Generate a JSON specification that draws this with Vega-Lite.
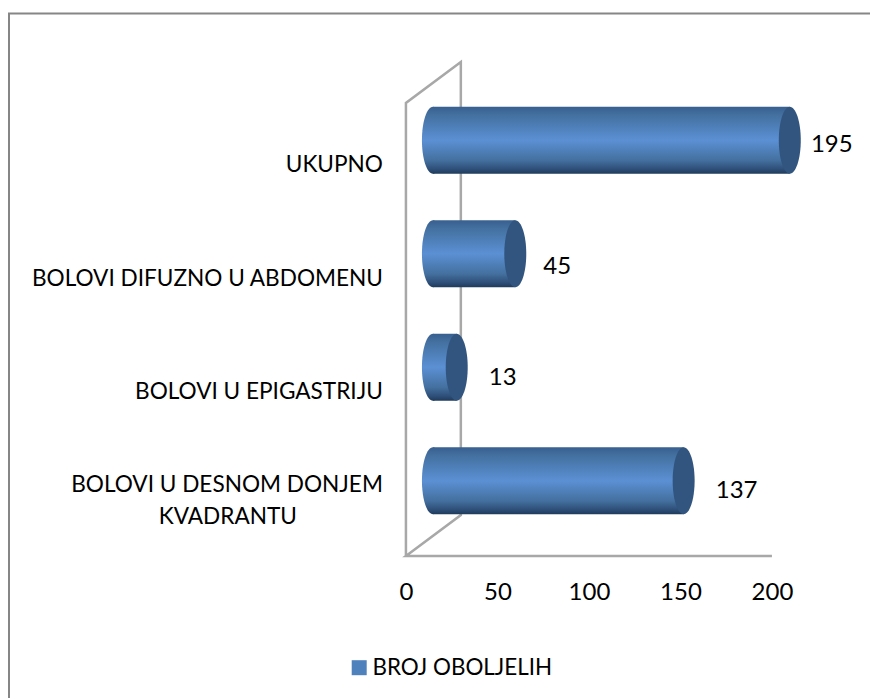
{
"$schema":"https://vega.github.io/schema/vega-lite/v6.json",
"autosize":{"type":"none"},
"padding":{"left":9,"top":13.5,"right":0,"bottom":0},
"width":900,"height":720,
"background":"white",
"config":{"view":{"stroke":"#868686","strokeWidth":2},"font":"Lato"},
"datasets":{
"bars":[
{"kategorija":"UKUPNO","broj":195,"serija":"BROJ OBOLJELIH"},
{"kategorija":"BOLOVI DIFUZNO U ABDOMENU","broj":45,"serija":"BROJ OBOLJELIH"},
{"kategorija":"BOLOVI U EPIGASTRIJU","broj":13,"serija":"BROJ OBOLJELIH"},
{"kategorija":"BOLOVI U DESNOM DONJEM KVADRANTU","broj":137,"serija":"BROJ OBOLJELIH"}],
"linije":[
{"kategorija":"UKUPNO","tekst":"UKUPNO","x":-12.6},
{"kategorija":"BOLOVI DIFUZNO U ABDOMENU","tekst":"BOLOVI DIFUZNO U ABDOMENU","x":-12.6},
{"kategorija":"BOLOVI U EPIGASTRIJU","tekst":"BOLOVI U EPIGASTRIJU","x":-12.6}],
"zid":[
{"r":1,"x":0,"h":0},{"r":2,"x":0,"h":453},{"r":3,"x":30,"h":494},{"r":4,"x":30,"h":41},{"r":5,"x":0,"h":0},{"r":6,"x":200,"h":0}]
},
"layer":[
{"data":{"name":"zid"},
 "mark":{"type":"line","color":"#a8a8a8","strokeWidth":2.5,"clip":false},
 "encoding":{
  "x":{"field":"x","type":"quantitative","title":null,"scale":{"domain":[-216.9,274.9],"zero":false,"nice":false},
   "axis":{"values":[0,50,100,150,200],"domain":false,"ticks":false,"grid":false,"offset":-177.5,"labelPadding":24,"labelFontSize":24,"labelFont":"Lato","labelColor":"#000000","labelFlush":false,"labelOverlap":false,"orient":"bottom","labelDx":1.5}},
  "y":{"field":"h","type":"quantitative","title":null,"axis":null,"scale":{"domain":[-177.5,542.5],"zero":false,"nice":false}},
  "order":{"field":"r"}}},
{"data":{"name":"bars"},
 "mark":{"type":"bar","xOffset":27,"x2Offset":27,"fill":{"x1":0,"y1":0,"x2":0,"y2":1,"gradient":"linear","stops":[{"offset":0,"color":"#385f90"},{"offset":0.12,"color":"#43709f"},{"offset":0.5,"color":"#5b90d4"},{"offset":0.8,"color":"#44709f"},{"offset":0.93,"color":"#2e4f78"},{"offset":1,"color":"#1f3b5b"}]}},
 "encoding":{
  "y":{"field":"kategorija","type":"nominal","title":null,"axis":null,"sort":null,"scale":{"type":"band","range":[70,524],"paddingInner":0.41,"paddingOuter":0.205}},
  "x":{"field":"broj","type":"quantitative","title":null},
  "x2":{"datum":0}}},
{"data":{"name":"bars"},
 "mark":{"type":"point","filled":true,"opacity":1,"size":4489,"xOffset":27,"shape":"M0,-1 A0.328,1 0 1,1 0,1 A0.328,1 0 1,1 0,-1 Z","fill":{"x1":0,"y1":0,"x2":0,"y2":1,"gradient":"linear","stops":[{"offset":0,"color":"#385f90"},{"offset":0.12,"color":"#43709f"},{"offset":0.5,"color":"#5b90d4"},{"offset":0.8,"color":"#44709f"},{"offset":0.93,"color":"#2e4f78"},{"offset":1,"color":"#1f3b5b"}]}},
 "encoding":{
  "y":{"field":"kategorija","type":"nominal","title":null,"axis":null,"sort":null,"scale":{"type":"band","range":[70,524],"paddingInner":0.41,"paddingOuter":0.205}},
  "x":{"datum":0}}},
{"data":{"name":"bars"},
 "mark":{"type":"point","filled":true,"opacity":1,"size":3600,"xOffset":27,"shape":"M0,-1 A0.328,1 0 1,1 0,1 A0.328,1 0 1,1 0,-1 Z"},
 "encoding":{
  "y":{"field":"kategorija","type":"nominal","title":null,"axis":null,"sort":null,"scale":{"type":"band","range":[70,524],"paddingInner":0.41,"paddingOuter":0.205}},
  "x":{"field":"broj","type":"quantitative","title":null},
  "color":{"field":"serija","type":"nominal","scale":{"range":["#4f81bd"]},
   "legend":{"title":null,"orient":"none","legendX":339,"legendY":643,"symbolType":"square","symbolSize":225,"labelFontSize":22.4,"labelFont":"Lato","labelColor":"#000000","labelOffset":2,"labelLimit":400,"padding":0,"symbolOpacity":1,"symbolStrokeWidth":0}}}},
{"data":{"name":"bars"},
 "mark":{"type":"point","filled":true,"opacity":1,"size":4489,"xOffset":27,"color":"#31557f","shape":"M0,-1 A0.328,1 0 1,1 0,1 A0.328,1 0 1,1 0,-1 Z"},
 "encoding":{
  "y":{"field":"kategorija","type":"nominal","title":null,"axis":null,"sort":null,"scale":{"type":"band","range":[70,524],"paddingInner":0.41,"paddingOuter":0.205}},
  "x":{"field":"broj","type":"quantitative","title":null}}},
{"data":{"name":"bars"},"transform":[{"filter":"datum.broj==195"}],
 "mark":{"type":"text","fontSize":24,"font":"Lato","color":"#000000","align":"center","baseline":"middle","xOffset":69,"yOffset":5},
 "encoding":{
  "y":{"field":"kategorija","type":"nominal","title":null,"axis":null,"scale":{"type":"band","domain":["UKUPNO","BOLOVI DIFUZNO U ABDOMENU","BOLOVI U EPIGASTRIJU","BOLOVI U DESNOM DONJEM KVADRANTU"],"range":[70,524],"paddingInner":0.41,"paddingOuter":0.205}},
  "x":{"field":"broj","type":"quantitative","title":null},
  "text":{"field":"broj","type":"quantitative"}}},
{"data":{"name":"bars"},"transform":[{"filter":"datum.broj==45"}],
 "mark":{"type":"text","fontSize":24,"font":"Lato","color":"#000000","align":"center","baseline":"middle","xOffset":69,"yOffset":13.5},
 "encoding":{
  "y":{"field":"kategorija","type":"nominal","title":null,"axis":null,"scale":{"type":"band","domain":["UKUPNO","BOLOVI DIFUZNO U ABDOMENU","BOLOVI U EPIGASTRIJU","BOLOVI U DESNOM DONJEM KVADRANTU"],"range":[70,524],"paddingInner":0.41,"paddingOuter":0.205}},
  "x":{"field":"broj","type":"quantitative","title":null},
  "text":{"field":"broj","type":"quantitative"}}},
{"data":{"name":"bars"},"transform":[{"filter":"datum.broj==13"}],
 "mark":{"type":"text","fontSize":24,"font":"Lato","color":"#000000","align":"center","baseline":"middle","xOffset":73,"yOffset":11},
 "encoding":{
  "y":{"field":"kategorija","type":"nominal","title":null,"axis":null,"scale":{"type":"band","domain":["UKUPNO","BOLOVI DIFUZNO U ABDOMENU","BOLOVI U EPIGASTRIJU","BOLOVI U DESNOM DONJEM KVADRANTU"],"range":[70,524],"paddingInner":0.41,"paddingOuter":0.205}},
  "x":{"field":"broj","type":"quantitative","title":null},
  "text":{"field":"broj","type":"quantitative"}}},
{"data":{"name":"bars"},"transform":[{"filter":"datum.broj==137"}],
 "mark":{"type":"text","fontSize":24,"font":"Lato","color":"#000000","align":"center","baseline":"middle","xOffset":80,"yOffset":10.5},
 "encoding":{
  "y":{"field":"kategorija","type":"nominal","title":null,"axis":null,"scale":{"type":"band","domain":["UKUPNO","BOLOVI DIFUZNO U ABDOMENU","BOLOVI U EPIGASTRIJU","BOLOVI U DESNOM DONJEM KVADRANTU"],"range":[70,524],"paddingInner":0.41,"paddingOuter":0.205}},
  "x":{"field":"broj","type":"quantitative","title":null},
  "text":{"field":"broj","type":"quantitative"}}},
{"data":{"name":"linije"},
 "mark":{"type":"text","fontSize":22.6,"font":"Lato","color":"#000000","align":"right","baseline":"middle","yOffset":25},
 "encoding":{
  "y":{"field":"kategorija","type":"nominal","title":null,"axis":null,"scale":{"type":"band","domain":["UKUPNO","BOLOVI DIFUZNO U ABDOMENU","BOLOVI U EPIGASTRIJU","BOLOVI U DESNOM DONJEM KVADRANTU"],"range":[70,524],"paddingInner":0.41,"paddingOuter":0.205}},
  "x":{"field":"x","type":"quantitative","title":null},
  "text":{"field":"tekst"}}},
{"data":{"values":[{"kategorija":"BOLOVI U DESNOM DONJEM KVADRANTU","tekst":"BOLOVI U DESNOM DONJEM","x":-12.6}]},
 "mark":{"type":"text","fontSize":22.6,"font":"Lato","color":"#000000","align":"right","baseline":"middle","yOffset":4.5},
 "encoding":{
  "y":{"field":"kategorija","type":"nominal","title":null,"axis":null,"scale":{"type":"band","domain":["UKUPNO","BOLOVI DIFUZNO U ABDOMENU","BOLOVI U EPIGASTRIJU","BOLOVI U DESNOM DONJEM KVADRANTU"],"range":[70,524],"paddingInner":0.41,"paddingOuter":0.205}},
  "x":{"field":"x","type":"quantitative","title":null},
  "text":{"field":"tekst"}}},
{"data":{"values":[{"kategorija":"BOLOVI U DESNOM DONJEM KVADRANTU","tekst":"KVADRANTU","x":-97.3}]},
 "mark":{"type":"text","fontSize":22.6,"font":"Lato","color":"#000000","align":"center","baseline":"middle","yOffset":36.5},
 "encoding":{
  "y":{"field":"kategorija","type":"nominal","title":null,"axis":null,"scale":{"type":"band","domain":["UKUPNO","BOLOVI DIFUZNO U ABDOMENU","BOLOVI U EPIGASTRIJU","BOLOVI U DESNOM DONJEM KVADRANTU"],"range":[70,524],"paddingInner":0.41,"paddingOuter":0.205}},
  "x":{"field":"x","type":"quantitative","title":null},
  "text":{"field":"tekst"}}}
],
"resolve":{"scale":{"y":"independent"},"axis":{"y":"independent"}}
}
